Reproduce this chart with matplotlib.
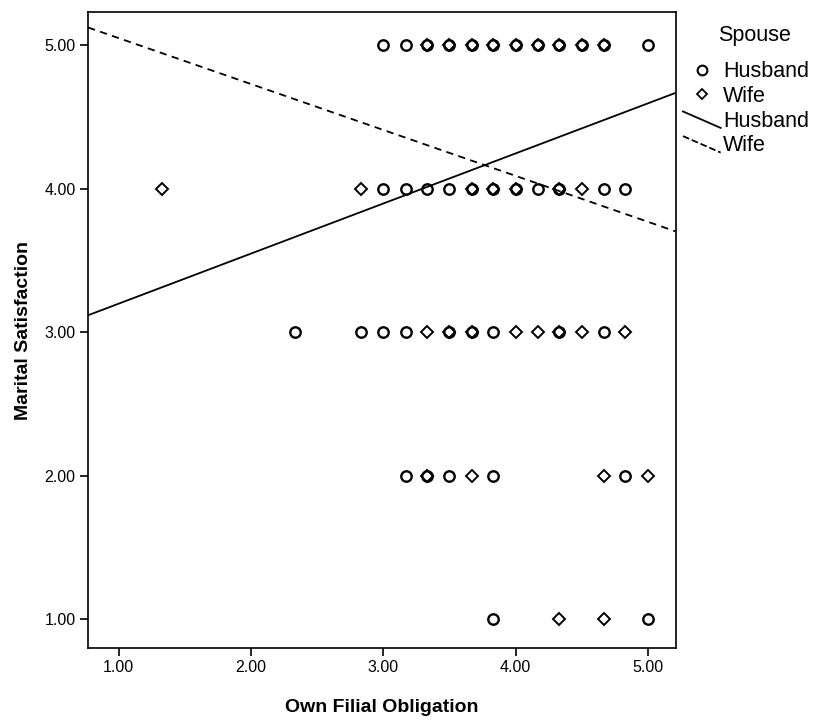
import matplotlib
matplotlib.use("Agg")
import matplotlib.pyplot as plt
import numpy as np
from matplotlib.lines import Line2D
from matplotlib.legend_handler import HandlerBase

plt.rcParams["font.family"] = ["Liberation Sans", "DejaVu Sans"]

# --- data (filial obligation scores are in sixths) ---
husband_obl = [3.00, 3.17, 3.33, 3.50, 3.67, 3.83, 4.00, 4.17, 4.33, 4.50, 4.67, 5.00,
               3.00, 3.17, 3.33, 3.50, 3.67, 3.83, 4.00, 4.17, 4.33, 4.67, 4.83,
               2.33, 2.83, 3.00, 3.17, 3.50, 3.67, 3.83, 4.33, 4.67,
               3.17, 3.33, 3.50, 3.83, 4.83,
               3.83, 5.00]
husband_sat = [5] * 12 + [4] * 11 + [3] * 9 + [2] * 5 + [1] * 2

wife_obl = [3.33, 3.50, 3.67, 3.83, 4.00, 4.17, 4.33, 4.50, 4.67,
            1.33, 2.83, 3.67, 3.83, 4.00, 4.33, 4.50,
            3.33, 3.50, 3.67, 4.00, 4.17, 4.33, 4.50, 4.83,
            3.33, 3.67, 4.67, 5.00,
            4.33, 4.67]
wife_sat = [5] * 9 + [4] * 7 + [3] * 8 + [2] * 4 + [1] * 2

# fit lines (intercept, slope)
husband_fit = (2.85, 0.349)
wife_fit = (5.37, -0.32)

x_ticks = [1.0, 2.0, 3.0, 4.0, 5.0]
y_ticks = [1.0, 2.0, 3.0, 4.0, 5.0]


class DiagonalHandler(HandlerBase):
    # SPSS draws the fit-line legend keys as short slanted strokes
    def create_artists(self, legend, orig, xdescent, ydescent, width, height, fontsize, trans):
        ln = Line2D([-xdescent, width - xdescent], [height - ydescent, -ydescent - 1],
                    color=orig.get_color(), linestyle=orig.get_linestyle(),
                    linewidth=orig.get_linewidth(), transform=trans)
        return [ln]


fig = plt.figure(figsize=(8.16, 7.2), dpi=100)
ax = fig.add_axes([0.108, 0.1, 0.72, 0.883])

ax.plot(husband_obl, husband_sat, linestyle="none", marker="o", markersize=7.5,
        markerfacecolor="none", markeredgecolor="black", markeredgewidth=1.7)
ax.plot(wife_obl, wife_sat, linestyle="none", marker="D", markersize=6,
        markerfacecolor="none", markeredgecolor="black", markeredgewidth=1.4)

xlim = (0.77, 5.21)
xs = np.array(xlim)
ax.plot(xs, husband_fit[0] + husband_fit[1] * xs, color="black", linewidth=1.3)
ax.plot(xs, wife_fit[0] + wife_fit[1] * xs, color="black", linewidth=1.3, linestyle=(0, (4, 3)))

ax.set_xlim(*xlim)
ax.set_ylim(0.8, 5.23)
ax.set_xticks(x_ticks)
ax.set_yticks(y_ticks)
ax.set_xticklabels([f"{v:.2f}" for v in x_ticks])
ax.set_yticklabels([f"{v:.2f}" for v in y_ticks])
ax.tick_params(direction="out", length=6, width=1.2, labelsize=11.5, colors="black", pad=3)
for s in ax.spines.values():
    s.set_linewidth(1.2)

ax.set_xlabel("Own Filial Obligation", fontsize=14, fontweight="bold", labelpad=17)
ax.set_ylabel("Marital Satisfaction", fontsize=14, fontweight="bold", labelpad=9)

h_pt = Line2D([], [], linestyle="none", marker="o", markersize=7, markerfacecolor="none",
              markeredgecolor="black", markeredgewidth=1.5)
w_pt = Line2D([], [], linestyle="none", marker="D", markersize=5.5, markerfacecolor="none",
              markeredgecolor="black", markeredgewidth=1.3)
h_ln = Line2D([], [], color="black", linewidth=1.3)
w_ln = Line2D([], [], color="black", linewidth=1.3, linestyle=(0, (3, 2)))

fig.text(0.88, 1 - 35 / 720, "Spouse", fontsize=15.5, va="center", ha="left")
fig.legend([h_pt, w_pt, h_ln, w_ln], ["Husband", "Wife", "Husband", "Wife"],
           handler_map={h_ln: DiagonalHandler(), w_ln: DiagonalHandler()},
           loc="upper left", bbox_to_anchor=(0.837, 0.915), frameon=False,
           fontsize=15.5, handlelength=1.75, handletextpad=0.1, labelspacing=0.17,
           borderaxespad=0, borderpad=0)

fig.savefig("out.png", dpi=100)
